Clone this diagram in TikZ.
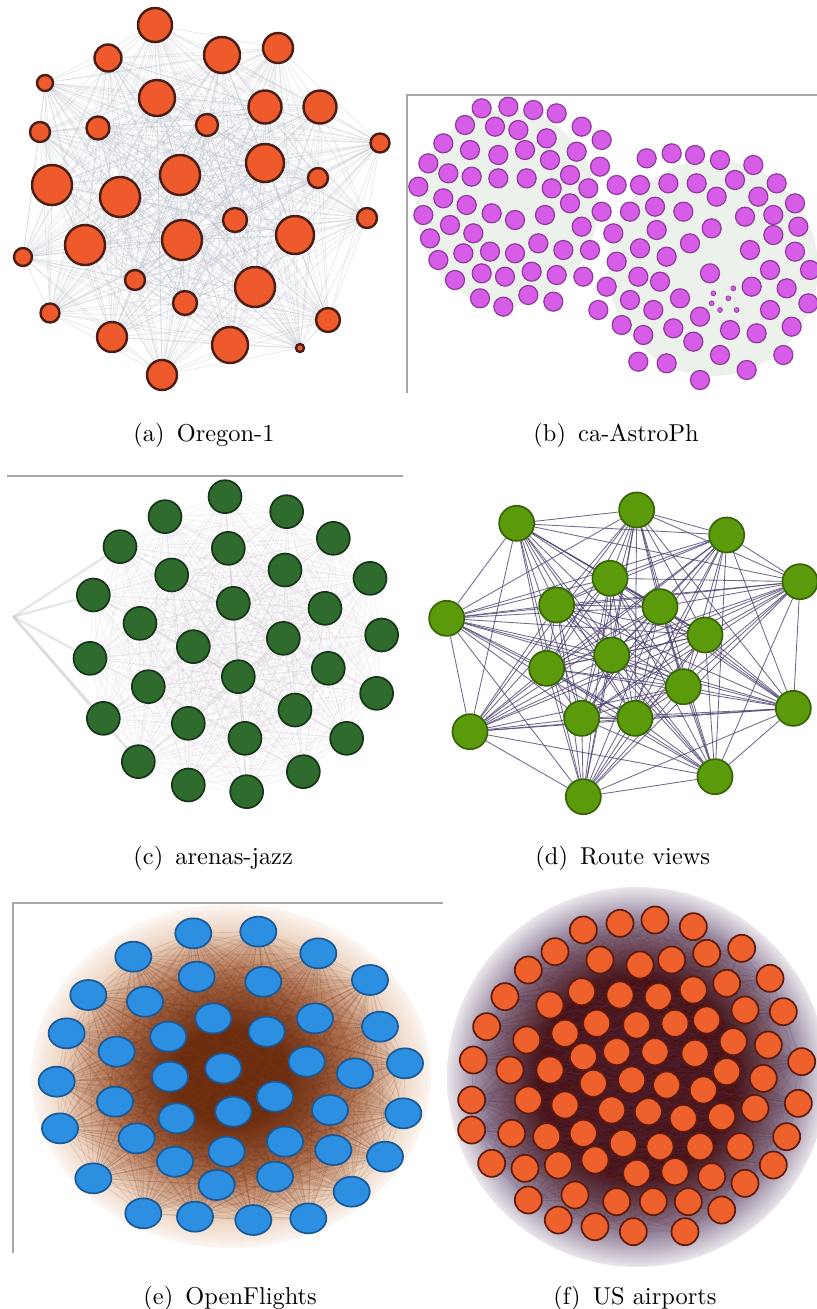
\documentclass[tikz,border=0pt]{standalone}
\usepackage{tikz}
\usetikzlibrary{shapes.geometric,backgrounds}
\definecolor{orecolor}{HTML}{EE5A2C}
\definecolor{oreborder}{HTML}{4A1E14}
\definecolor{oreedge}{HTML}{B8BCC8}
\definecolor{astrocolor}{HTML}{D75CE8}
\definecolor{astroborder}{HTML}{8E3C9C}
\definecolor{astrohaze}{HTML}{DCE3D8}
\definecolor{jazzcolor}{HTML}{2F6B2C}
\definecolor{jazzborder}{HTML}{16361A}
\definecolor{jazzedge}{HTML}{D2CAD4}
\definecolor{routecolor}{HTML}{5B9A0B}
\definecolor{routeborder}{HTML}{3A6506}
\definecolor{routeedge}{HTML}{4C4272}
\definecolor{flightcolor}{HTML}{2D8FE2}
\definecolor{flightborder}{HTML}{1A5896}
\definecolor{flightdark}{HTML}{6A2A0E}
\definecolor{flightmid}{HTML}{B27454}
\definecolor{flightmesh}{HTML}{EDD3C0}
\definecolor{flightedge}{HTML}{7A3A18}
\definecolor{uscolor}{HTML}{EE602C}
\definecolor{usborder}{HTML}{5E1A0C}
\definecolor{usdark}{HTML}{4A0C08}
\definecolor{usmesh}{HTML}{9A8AA2}
\definecolor{usedge}{HTML}{4E3658}
\definecolor{panelline}{HTML}{A8A8A8}
\pgfdeclareradialshading{flighthaze}{\pgfpoint{0bp}{0bp}}{color(0bp)=(flightdark); color(7bp)=(flightdark); color(15bp)=(flightmid); color(21bp)=(flightmesh); color(26bp)=(white); color(50bp)=(white)}
\pgfdeclareradialshading{ushaze}{\pgfpoint{0bp}{0bp}}{color(0bp)=(usdark); color(13bp)=(usdark); color(21bp)=(usmesh); color(26bp)=(white); color(50bp)=(white)}

\begin{document}
\begin{tikzpicture}[
  x=0.41pt, y=-0.41pt,
  orenode/.style={circle, draw=oreborder, line width=1pt, fill=orecolor, inner sep=0pt},
  astronode/.style={circle, draw=astroborder, line width=0.5pt, fill=astrocolor, minimum size=7.8pt, inner sep=0pt},
  jazznode/.style={circle, draw=jazzborder, line width=0.7pt, fill=jazzcolor, minimum size=13.5pt, inner sep=0pt},
  routenode/.style={circle, draw=routeborder, line width=0.7pt, fill=routecolor, minimum size=14.4pt, inner sep=0pt},
  flightnode/.style={ellipse, draw=flightborder, line width=0.7pt, fill=flightcolor, minimum width=14.8pt, minimum height=12.3pt, inner sep=0pt},
  usnode/.style={circle, draw=usborder, line width=0.7pt, fill=uscolor, minimum size=11.1pt, inner sep=0pt},
  oreline/.style={oreedge, line width=0.3pt, opacity=0.35},
  jazzline/.style={jazzedge, line width=0.3pt, opacity=0.3},
  routeline/.style={routeedge, line width=0.35pt, opacity=0.8},
  flightline/.style={flightedge, line width=0.3pt, opacity=0.16},
  usline/.style={usedge, line width=0.3pt, opacity=0.12},
  panelframe/.style={panelline, line width=0.5pt},
  caption/.style={anchor=base west, font=\normalsize, inner sep=0pt},
]
  \useasboundingbox (0,0) rectangle (817,1309);

  % Frames
  \draw[panelframe] (407,393) -- (407,95) -- (817,95);
  \draw[panelframe] (7,476) -- (403,476);
  \draw[panelframe] (13,1253) -- (13,903) -- (443,903);

  % Hazes
  \begin{pgfonlayer}{background}
    \fill[astrohaze, opacity=0.5] (507,208) ellipse (90 and 98);
    \fill[astrohaze, opacity=0.5] (713,268) ellipse (105 and 108);
    \shade[shading=flighthaze] (231,1076) ellipse (200 and 172);
    \shade[shading=ushaze] (637,1077) circle (190);
  \end{pgfonlayer}

  % (a) Oregon-1
  \foreach \x/\y/\s [count=\k] in {155/25/34, 108/58/27, 222/55/36, 278/48/30, 45/83/16, 157/98/36,
      265/107/33, 320/107/33, 207/125/22, 98/128/23, 40/132/20, 380/143/19, 180/175/40, 265/163/38,
      318/178/20, 52/185/40, 120/197/40, 235/220/24, 367/218/20, 85/245/40, 182/240/40, 295/235/38,
      23/257/18, 135/280/20, 255/287/40, 185/303/24, 50/313/19, 328/320/24, 112/337/30, 230/345/36,
      300/348/8, 162/375/30}
    \node[orenode, minimum size=\s*0.41pt] (a\k) at (\x,\y) {};

  % (b) ca-AstroPh
  \begin{scope}[shift={(400,80)}, scale=1/3]
    \foreach \x/\y [count=\k] in {245/85, 325/80, 400/90, 470/100,
        195/135, 285/140, 355/150, 440/175, 545/140, 605/180,
        130/190, 210/210, 295/225, 375/210, 450/240, 530/215, 600/260,
        85/250, 145/280, 215/290, 295/295, 380/295, 455/325, 510/285, 565/325,
        55/320, 130/355, 200/375, 275/400, 345/420, 435/405, 510/370, 605/395,
        70/405, 150/435, 220/460, 90/475, 545/440, 640/460,
        115/540, 190/520, 270/515, 345/520, 415/490, 490/510, 570/510,
        165/600, 245/580, 315/590, 395/575, 470/585, 550/590,
        240/655, 310/680, 385/645, 460/665,
        740/235, 815/220, 885/225, 960/240, 1060/255,
        650/315, 720/315, 805/310, 890/310, 1005/300, 1130/310,
        690/395, 765/380, 850/395, 950/350, 1075/350, 1185/370,
        770/450, 935/445, 1035/410, 1120/405, 1195/440,
        720/505, 800/530, 870/490, 1050/510, 1120/465, 1185/515,
        650/545, 715/590, 780/605, 930/580, 1110/570, 1230/570,
        620/620, 690/660, 760/690, 840/655, 1055/620, 1160/625, 1225/670,
        595/690, 665/735, 730/765, 820/745, 900/710, 990/750, 1070/760, 1110/690, 1175/740,
        715/845, 800/850, 880/785, 960/825, 1040/870, 1150/825, 900/900}
      \node[astronode] (b\k) at (\x,\y) {};
    \foreach \x/\y [count=\k] in {940/640, 985/655, 1010/690, 960/690, 935/670, 1000/625}
      \node[astronode, minimum size=2pt, line width=0.3pt] (bs\k) at (\x,\y) {};
  \end{scope}

  % (c) arenas-jazz
  \begin{scope}[shift={(0,460)}, scale=1/3]
    \foreach \x/\y [count=\k] in {675/110, 495/170, 860/155, 360/260, 685/265, 1000/235, 515/345,
        855/330, 1110/355, 280/405, 700/430, 975/445, 420/490, 580/560, 850/535, 1145/525,
        270/595, 715/650, 985/625, 445/680, 1130/700, 310/775, 565/790, 885/750, 735/835,
        1040/835, 415/905, 565/975, 910/935, 740/995}
      \node[jazznode] (c\k) at (\x,\y) {};
    \coordinate (chub) at (40,470);
  \end{scope}

  % (d) Route views
  \begin{scope}[shift={(410,460)}, scale=1/3]
    \foreach \x/\y [count=\k] in {320/190, 680/150, 950/225, 1170/365, 110/475, 600/355, 440/435,
        750/440, 885/525, 605/585, 410/625, 820/680, 1150/745, 180/815, 515/775, 675/775,
        915/950, 520/1010}
      \node[routenode] (d\k) at (\x,\y) {};
  \end{scope}

  % (e) OpenFlights
  \begin{scope}[shift={(0,870)}, scale=1/3]
    \foreach \x/\y [count=\k] in {580/190, 775/185, 400/260, 955/250, 590/320, 790/335, 1110/330,
        265/375, 435/395, 640/445, 945/445, 200/490, 505/500, 800/485, 1140/470, 350/545,
        920/575, 1215/580, 170/635, 510/620, 670/595, 1065/610, 345/695, 825/680, 990/720,
        1210/730, 180/775, 700/725, 530/745, 410/805, 855/815, 1000/840, 1155/860, 680/845,
        525/875, 280/925, 825/920, 650/945, 1055/965, 430/1030, 585/1040, 760/1050, 925/1045}
      \node[flightnode] (e\k) at (\x,\y) {};
  \end{scope}

  % (f) US airports
  \begin{scope}[shift={(440,870)}, scale=1/3]
    \foreach \x/\y [count=\k] in {430/180, 540/160, 645/150, 760/170,
        345/245, 480/270, 600/285, 695/270, 800/250, 905/235,
        265/300, 990/325,
        195/380, 425/365, 540/375, 655/380, 760/360, 860/340,
        330/405, 915/420, 1030/425,
        140/470, 470/460, 590/465, 705/460, 800/450,
        260/510, 375/490, 880/515, 985/525,
        100/570, 430/560, 530/545, 645/545, 765/550,
        210/600, 330/600, 860/605, 970/625, 1085/575,
        460/640, 575/630, 680/645, 790/660,
        95/690, 265/690, 375/705, 945/715, 1075/700,
        515/720, 625/725, 730/745, 845/740,
        95/780, 215/790, 320/800, 430/790, 1040/800,
        550/820, 660/830, 780/830, 900/830,
        155/880, 255/895, 355/885, 465/870, 1000/885,
        590/910, 705/905, 815/920, 915/940,
        265/990, 405/975, 530/995, 640/995, 745/995, 845/1020,
        355/1050, 465/1070, 580/1085, 735/1085}
      \node[usnode] (f\k) at (\x,\y) {};
  \end{scope}

  % Edges
  \begin{pgfonlayer}{background}
    \foreach \i in {1,...,31}{
      \pgfmathtruncatemacro\k{\i+1}
      \foreach \j in {\k,...,32}
        \draw[oreline] (a\i) -- (a\j);
    }
    \foreach \i in {1,...,29}{
      \pgfmathtruncatemacro\k{\i+1}
      \foreach \j in {\k,...,30}
        \draw[jazzline] (c\i) -- (c\j);
    }
    \foreach \n in {4,10,17,22,27}
      \draw[jazzedge, line width=1pt, opacity=0.5] (chub) -- (c\n);
    \foreach \i in {1,...,17}{
      \pgfmathtruncatemacro\k{\i+1}
      \foreach \j in {\k,...,18}
        \draw[routeline] (d\i) -- (d\j);
    }
    \foreach \i in {1,...,42}{
      \pgfmathtruncatemacro\k{\i+1}
      \foreach \j in {\k,...,43}
        \draw[flightline] (e\i) -- (e\j);
    }
    \foreach \i in {1,...,80}{
      \pgfmathtruncatemacro\k{\i+1}
      \pgfmathtruncatemacro\m{min(\i+30,81)}
      \foreach \j in {\k,...,\m}
        \draw[usline] (f\i) -- (f\j);
    }
  \end{pgfonlayer}

  % Labels
  \node[caption] (capa) at (133,441) {(a)\enspace Oregon-1};
  \node[caption] (capb) at (533,441) {(b)\enspace ca-AstroPh};
  \node[caption] (capc) at (133,864) {(c)\enspace arenas-jazz};
  \node[caption] (capd) at (535,864) {(d)\enspace Route views};
  \node[caption] (cape) at (143,1304) {(e)\enspace OpenFlights};
  \node[caption] (capf) at (553,1304) {(f)\enspace US airports};
\end{tikzpicture}
\end{document}
